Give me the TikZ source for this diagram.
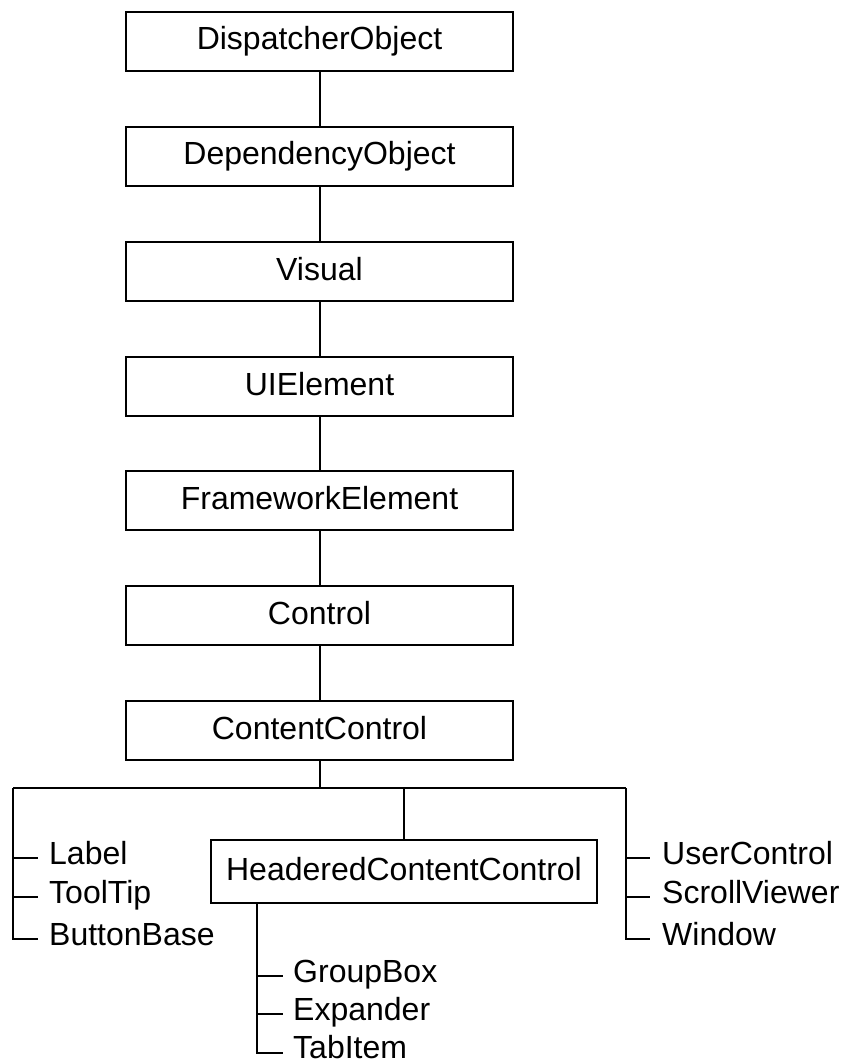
\documentclass[tikz,border=0pt]{standalone}
\usepackage{fontspec}
\setmainfont{Liberation Sans}
\begin{document}
\begin{tikzpicture}[x=1pt,y=-1pt,
  every node/.style={font=\fontsize{32}{38}\selectfont},
  box/.style={draw, line width=2pt, minimum width=387pt, minimum height=59pt, inner sep=0pt, text height=23pt, text depth=6pt},
  hbox/.style={draw, line width=2pt, minimum width=386pt, minimum height=63pt, inner sep=0pt, text height=23pt, text depth=6pt},
  leaf/.style={anchor=west, inner sep=0pt, text height=23pt, text depth=6pt},
  conn/.style={line width=2pt}]
\useasboundingbox (0,0) rectangle (848,1064);
\node[box] (disp) at (319.5,41.5) {DispatcherObject};
\node[box] (dep) at (319.5,156.3) {DependencyObject};
\node[box] (vis) at (319.5,271.6) {Visual};
\node[box] (uie) at (319.5,386.6) {UIElement};
\node[box] (fwe) at (319.5,500.7) {FrameworkElement};
\node[box] (ctl) at (319.5,615.5) {Control};
\node[box] (cc) at (319.5,730.5) {ContentControl};
\node[hbox] (hcc) at (404,871.5) {HeaderedContentControl};

\coordinate (bus) at (319.5,788);
\coordinate (busL) at (13,788);
\coordinate (busR) at (626,788);
\coordinate (busH) at (404,788);

\node[leaf] (label) at (49,856) {Label};
\node[leaf] (tooltip) at (49,895) {ToolTip};
\node[leaf] (bb) at (49,937) {ButtonBase};
\node[leaf] (uc) at (662,856) {UserControl};
\node[leaf] (sv) at (662,895) {ScrollViewer};
\node[leaf] (win) at (662,937) {Window};
\node[leaf] (gb) at (293,974) {GroupBox};
\node[leaf] (exp) at (293,1012) {Expander};
\node[leaf] (tab) at (293,1050) {TabItem};

\draw[conn] (disp) -- (dep);
\draw[conn] (dep) -- (vis);
\draw[conn] (vis) -- (uie);
\draw[conn] (uie) -- (fwe);
\draw[conn] (fwe) -- (ctl);
\draw[conn] (ctl) -- (cc);
\draw[conn] (cc) -- (bus);
\draw[conn] (busL) -- (busR);
\draw[conn] (busH) -- (hcc);

\draw[conn] (busL) |- ([xshift=-11pt,yshift=-2pt]bb.west);
\draw[conn] (13,858) -- ([xshift=-11pt,yshift=-2pt]label.west);
\draw[conn] (13,897) -- ([xshift=-11pt,yshift=-2pt]tooltip.west);

\draw[conn] (busR) |- ([xshift=-12pt,yshift=-2pt]win.west);
\draw[conn] (626,858) -- ([xshift=-12pt,yshift=-2pt]uc.west);
\draw[conn] (626,897) -- ([xshift=-12pt,yshift=-2pt]sv.west);

\draw[conn] (hcc.south -| 257,0) |- ([xshift=-10pt,yshift=-3pt]tab.west);
\draw[conn] (257,976) -- ([xshift=-10pt,yshift=-2pt]gb.west);
\draw[conn] (257,1014) -- ([xshift=-10pt,yshift=-2pt]exp.west);
\end{tikzpicture}
\end{document}
